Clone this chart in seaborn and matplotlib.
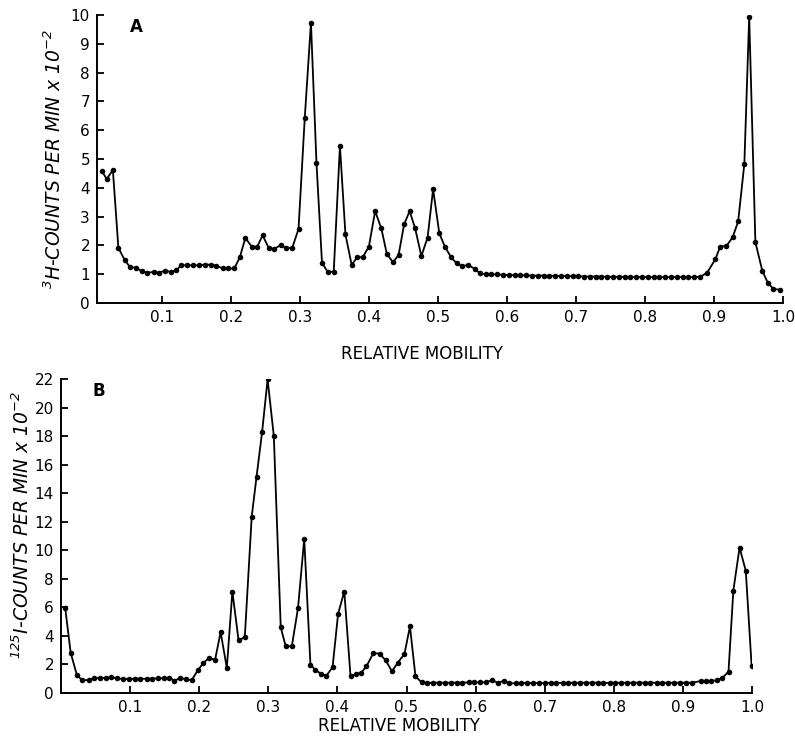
import matplotlib
matplotlib.use("Agg")
import matplotlib.pyplot as plt
import seaborn as sns
import pandas as pd

# ---- Panel A data (3H counts per min x 10^-2) ----
mobility_a = [0.013, 0.020, 0.029, 0.037, 0.046, 0.054, 0.062, 0.071, 0.079, 0.088,
              0.096, 0.104, 0.113, 0.121, 0.128, 0.137, 0.145, 0.154, 0.162, 0.171,
              0.179, 0.188, 0.196, 0.205, 0.213, 0.221, 0.230, 0.238, 0.246, 0.255,
              0.263, 0.272, 0.280, 0.289, 0.298, 0.307, 0.316, 0.324, 0.332, 0.340,
              0.349, 0.358, 0.366, 0.375, 0.383, 0.391, 0.400, 0.409, 0.418, 0.426,
              0.435, 0.443, 0.451, 0.459, 0.467, 0.476, 0.485, 0.493, 0.502, 0.510,
              0.519, 0.527, 0.535, 0.544, 0.553, 0.561, 0.569, 0.577, 0.586, 0.594,
              0.603, 0.611, 0.619, 0.628, 0.636, 0.645, 0.653, 0.661, 0.670, 0.678,
              0.687, 0.695, 0.703, 0.712, 0.720, 0.729, 0.737, 0.745, 0.754, 0.762,
              0.771, 0.779, 0.787, 0.796, 0.804, 0.813, 0.821, 0.829, 0.838, 0.846,
              0.855, 0.863, 0.871, 0.880, 0.890, 0.902, 0.909, 0.918, 0.927, 0.935,
              0.944, 0.951, 0.960, 0.970, 0.978, 0.986, 0.995]
counts_a = [4.59, 4.30, 4.62, 1.91, 1.50, 1.24, 1.23, 1.10, 1.05, 1.08,
            1.05, 1.12, 1.08, 1.14, 1.31, 1.31, 1.31, 1.31, 1.33, 1.33,
            1.30, 1.20, 1.20, 1.20, 1.59, 2.26, 1.96, 1.95, 2.35, 1.90,
            1.88, 2.01, 1.91, 1.92, 2.57, 6.41, 9.73, 4.87, 1.40, 1.09,
            1.08, 5.45, 2.38, 1.32, 1.59, 1.59, 1.96, 3.19, 2.59, 1.70,
            1.41, 1.67, 2.73, 3.19, 2.59, 1.63, 2.27, 3.95, 2.42, 1.96,
            1.59, 1.38, 1.28, 1.32, 1.19, 1.03, 1.00, 1.00, 0.99, 0.98,
            0.97, 0.97, 0.96, 0.96, 0.95, 0.95, 0.95, 0.94, 0.94, 0.94,
            0.93, 0.93, 0.93, 0.92, 0.92, 0.92, 0.92, 0.91, 0.91, 0.91,
            0.91, 0.90, 0.90, 0.90, 0.90, 0.90, 0.90, 0.90, 0.90, 0.90,
            0.90, 0.90, 0.90, 0.91, 1.05, 1.52, 1.96, 1.98, 2.28, 2.83,
            4.83, 9.94, 2.11, 1.12, 0.70, 0.49, 0.46]

# ---- Panel B data (125I counts per min x 10^-2) ----
mobility_b = [0.006, 0.014, 0.023, 0.031, 0.040, 0.048, 0.056, 0.065, 0.073, 0.081,
              0.090, 0.098, 0.107, 0.115, 0.124, 0.132, 0.140, 0.149, 0.157, 0.164,
              0.172, 0.181, 0.189, 0.198, 0.206, 0.214, 0.223, 0.231, 0.240, 0.248,
              0.257, 0.266, 0.276, 0.283, 0.291, 0.299, 0.308, 0.318, 0.325, 0.334,
              0.343, 0.352, 0.361, 0.368, 0.376, 0.384, 0.393, 0.401, 0.410, 0.419,
              0.427, 0.434, 0.442, 0.452, 0.461, 0.470, 0.479, 0.487, 0.497, 0.505,
              0.513, 0.522, 0.530, 0.539, 0.547, 0.556, 0.564, 0.573, 0.581, 0.590,
              0.598, 0.607, 0.615, 0.624, 0.632, 0.641, 0.649, 0.658, 0.666, 0.675,
              0.683, 0.692, 0.700, 0.709, 0.717, 0.726, 0.734, 0.743, 0.751, 0.760,
              0.768, 0.777, 0.785, 0.794, 0.802, 0.811, 0.819, 0.828, 0.836, 0.845,
              0.853, 0.862, 0.870, 0.879, 0.887, 0.896, 0.904, 0.913, 0.926, 0.934,
              0.941, 0.949, 0.957, 0.966, 0.973, 0.982, 0.991, 0.9995]
counts_b = [5.99, 2.82, 1.25, 0.88, 0.92, 1.05, 1.03, 1.07, 1.10, 1.03,
            0.98, 0.98, 1.00, 1.00, 1.00, 1.00, 1.03, 1.03, 1.07, 0.86,
            1.03, 0.98, 0.89, 1.59, 2.10, 2.45, 2.33, 4.27, 1.75, 7.11,
            3.68, 3.92, 12.36, 15.16, 18.27, 21.97, 18.00, 4.60, 3.31, 3.26,
            5.95, 10.80, 1.98, 1.63, 1.35, 1.21, 1.80, 5.55, 7.11, 1.16,
            1.35, 1.40, 1.86, 2.80, 2.75, 2.28, 1.51, 2.10, 2.73, 4.66,
            1.16, 0.74, 0.72, 0.72, 0.72, 0.72, 0.72, 0.73, 0.73, 0.74,
            0.74, 0.74, 0.75, 0.90, 0.72, 0.85, 0.68, 0.68, 0.70, 0.70,
            0.70, 0.70, 0.70, 0.71, 0.71, 0.71, 0.71, 0.71, 0.72, 0.72,
            0.72, 0.72, 0.71, 0.71, 0.71, 0.72, 0.72, 0.72, 0.72, 0.72,
            0.72, 0.72, 0.72, 0.72, 0.72, 0.72, 0.72, 0.72, 0.84, 0.84,
            0.86, 0.88, 1.05, 1.50, 7.18, 10.19, 8.56, 1.86]

xticks = [0.1, 0.2, 0.3, 0.4, 0.5, 0.6, 0.7, 0.8, 0.9, 1.0]
xtick_labels = ["0.1", "0.2", "0.3", "0.4", "0.5", "0.6", "0.7", "0.8", "0.9", "1.0"]
yticks_a = list(range(0, 11))
yticks_b = list(range(0, 23, 2))

xlabel = "RELATIVE MOBILITY"
ylabel_a = r"$^{3}$H-COUNTS PER MIN x 10$^{-2}$"
ylabel_b = r"$^{125}$I-COUNTS PER MIN x 10$^{-2}$"

sns.set_style("ticks")
plt.rcParams["font.family"] = ["DejaVu Sans"]
plt.rcParams["mathtext.fontset"] = "custom"
plt.rcParams["mathtext.rm"] = "DejaVu Sans:italic"
plt.rcParams["mathtext.it"] = "DejaVu Sans:italic"
plt.rcParams["mathtext.default"] = "it"
plt.rcParams["text.color"] = "black"
plt.rcParams["axes.labelcolor"] = "black"
plt.rcParams["axes.edgecolor"] = "black"

fig = plt.figure(figsize=(7.95, 7.42), dpi=100)
ax_a = fig.add_axes([97 / 795, 1 - 303 / 742, (783 - 97) / 795, (303 - 15) / 742])
ax_b = fig.add_axes([61 / 795, 1 - 693 / 742, (752 - 61) / 795, (693 - 379) / 742])

df_a = pd.DataFrame({"mobility": mobility_a, "counts": counts_a})
df_b = pd.DataFrame({"mobility": mobility_b, "counts": counts_b})

for ax, df in ((ax_a, df_a), (ax_b, df_b)):
    sns.lineplot(data=df, x="mobility", y="counts", ax=ax, color="black",
                 linewidth=1.3, marker="o", markersize=4.0, markeredgewidth=0,
                 estimator=None, sort=False)
    sns.despine(ax=ax)
    ax.spines["left"].set_linewidth(1.4)
    ax.spines["bottom"].set_linewidth(1.4)
    ax.tick_params(direction="in", length=5, width=1.3, labelsize=11, pad=5,
                   colors="black")
    ax.set_xticks(xticks)
    ax.set_xticklabels(xtick_labels)
    ax.set_xlabel(xlabel, fontsize=12)

ax_a.set_xlim(0.006, 1.0)
ax_a.set_ylim(0, 10)
ax_a.set_yticks(yticks_a)
ax_b.set_xlim(0.0, 1.0)
ax_b.set_ylim(0, 22)
ax_b.set_yticks(yticks_b)

ax_a.set_ylabel(ylabel_a, fontsize=13.5, fontstyle="italic")
ax_b.set_ylabel(ylabel_b, fontsize=13.5, fontstyle="italic")
ax_a.yaxis.set_label_coords(-0.047, 0.5)
ax_b.yaxis.set_label_coords(-0.040, 0.535)
ax_a.xaxis.set_label_coords(0.474, -0.146)
ax_b.xaxis.set_label_coords(0.489, -0.078)

ax_a.text(0.048, 0.99, "A", transform=ax_a.transAxes, ha="left", va="top",
          fontsize=12, fontweight="bold")
ax_b.text(0.045, 0.99, "B", transform=ax_b.transAxes, ha="left", va="top",
          fontsize=12, fontweight="bold")

fig.savefig("out.png", dpi=100, facecolor="white")
